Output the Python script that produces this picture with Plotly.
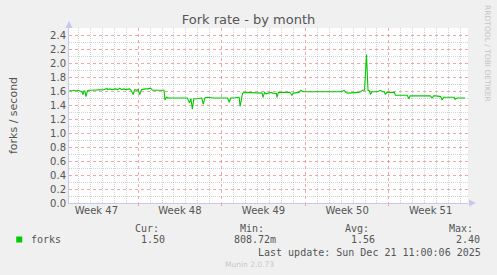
import plotly.graph_objects as go
import pandas as pd

# ---------------- data ----------------
start = "2025-11-18 00:00"
hours = [6, 11, 15, 19, 23, 27, 31, 33, 35, 37, 39, 42, 45, 51, 57, 63, 69, 71, 75, 79,
         81, 83, 87, 91, 95, 99, 103, 107, 111, 115, 119, 123, 127, 130, 134, 137, 141, 144, 147, 151,
         155, 159, 163, 167, 169, 173, 179, 185, 191, 196, 198, 201, 205, 211, 215, 219, 225, 231, 237, 243,
         247, 250, 253, 256, 261, 267, 272, 275, 278, 283, 289, 295, 301, 307, 313, 319, 324, 327, 330, 335,
         341, 347, 349, 354, 359, 365, 371, 377, 383, 389, 393, 395, 398, 401, 407, 411, 415, 419, 422, 423,
         426, 431, 437, 443, 449, 451, 453, 456, 461, 467, 471, 475, 481, 487, 493, 499, 505, 511, 517, 523,
         529, 535, 541, 547, 553, 558, 561, 565, 571, 577, 583, 587, 591, 595, 599, 603, 606, 609, 611, 614,
         619, 625, 631, 635, 639, 641, 644, 649, 655, 659, 661, 667, 673, 679, 685, 688, 691, 697, 703, 709,
         715, 721, 727, 731, 735, 738, 743, 749, 752, 755, 758, 763, 769, 775, 779, 781, 785, 791, 797, 801]
forks = [1.61, 1.60, 1.61, 1.60, 1.61, 1.60, 1.59, 1.55, 1.60, 1.60, 1.52, 1.60, 1.61, 1.61, 1.61, 1.61, 1.61, 1.62, 1.62, 1.63,
         1.64, 1.62, 1.63, 1.62, 1.63, 1.63, 1.62, 1.64, 1.62, 1.63, 1.62, 1.62, 1.63, 1.61, 1.55, 1.62, 1.61, 1.62, 1.55, 1.62,
         1.63, 1.63, 1.63, 1.63, 1.64, 1.61, 1.61, 1.61, 1.61, 1.61, 1.47, 1.51, 1.50, 1.50, 1.49, 1.50, 1.50, 1.49, 1.50, 1.50,
         1.43, 1.49, 1.34, 1.49, 1.49, 1.49, 1.50, 1.41, 1.50, 1.51, 1.50, 1.50, 1.50, 1.50, 1.50, 1.50, 1.50, 1.44, 1.50, 1.50,
         1.50, 1.51, 1.38, 1.57, 1.58, 1.58, 1.58, 1.58, 1.58, 1.58, 1.57, 1.51, 1.58, 1.56, 1.57, 1.58, 1.57, 1.57, 1.56, 1.51,
         1.58, 1.58, 1.58, 1.58, 1.58, 1.56, 1.54, 1.57, 1.57, 1.58, 1.61, 1.59, 1.59, 1.59, 1.60, 1.59, 1.59, 1.59, 1.60, 1.59,
         1.59, 1.59, 1.59, 1.59, 1.59, 1.61, 1.58, 1.57, 1.57, 1.57, 1.57, 1.58, 1.59, 1.61, 1.61, 2.12, 1.61, 1.60, 1.55, 1.59,
         1.59, 1.59, 1.61, 1.59, 1.59, 1.55, 1.58, 1.58, 1.58, 1.58, 1.54, 1.54, 1.54, 1.54, 1.54, 1.49, 1.53, 1.53, 1.53, 1.53,
         1.53, 1.53, 1.53, 1.53, 1.50, 1.53, 1.53, 1.53, 1.52, 1.47, 1.51, 1.51, 1.51, 1.51, 1.51, 1.48, 1.50, 1.50, 1.50, 1.50]

week_centers = ["2025-11-20 12:00", "2025-11-27 12:00", "2025-12-04 12:00", "2025-12-11 12:00", "2025-12-18 12:00"]
week_labels = ["Week 47", "Week 48", "Week 49", "Week 50", "Week 51"]
week_starts = ["2025-11-24", "2025-12-01", "2025-12-08", "2025-12-15"]
x_range = ["2025-11-18 05:00", "2025-12-21 15:00"]

y_ticks = [0.0, 0.2, 0.4, 0.6, 0.8, 1.0, 1.2, 1.4, 1.6, 1.8, 2.0, 2.2, 2.4]
y_minor = [0.1, 0.3, 0.5, 0.7, 0.9, 1.1, 1.3, 1.5, 1.7, 1.9, 2.1, 2.3, 2.5]

legend_name = "forks"
stat_headers = ["Cur:", "Min:", "Avg:", "Max:"]
stat_values = ["1.50", "808.72m", "1.56", "2.40"]
last_update = "Last update: Sun Dec 21 11:00:06 2025"

times = pd.Timestamp(start) + pd.to_timedelta(hours, unit="h")
days = pd.date_range("2025-11-19", "2025-12-21", freq="D")
day_minor = [d.strftime("%Y-%m-%d") for d in days if d.weekday() != 0]

# ---------------- layout geometry ----------------
W, H = 497, 275
L, R, T, B = 67, 468, 28, 203
PW, PH = R - L, B - T

def px(x):
    return (x - L) / PW

def py(y):
    return (B - y) / PH

GREEN = "#00CC00"
TXT = "#555555"
RED_GRID = "rgba(225,95,95,0.55)"
GRAY_GRID = "rgba(150,150,150,0.42)"
AXIS = "#C8C8EE"
DASH_MAJOR = "dot"
DASH_MINOR = "1px,1px"

fig = go.Figure()
fig.add_trace(go.Scatter(x=times, y=forks, mode="lines",
                         line=dict(color=GREEN, width=1.1), showlegend=False,
                         hoverinfo="skip"))

fig.update_layout(
    width=W, height=H,
    margin=dict(l=L, r=W - R, t=T, b=H - B, pad=0),
    paper_bgcolor="#F0F0F0", plot_bgcolor="#FFFFFF",
    font=dict(family="DejaVu Sans", size=10, color=TXT),
    title=dict(text="Fork rate - by month", x=0.5, xanchor="center",
               y=1 - 19 / H, yanchor="middle",
               font=dict(family="DejaVu Sans", size=13, color=TXT)),
    xaxis=dict(type="date", range=x_range, tickvals=week_starts,
               showticklabels=False, ticks="outside", ticklen=2, tickcolor=RED_GRID,
               showgrid=True, gridcolor=RED_GRID, griddash=DASH_MAJOR, gridwidth=1,
               minor=dict(tickmode="array", tickvals=day_minor, showgrid=True,
                          gridcolor=GRAY_GRID, griddash=DASH_MINOR, ticks=""),
               showline=True, linecolor=AXIS, linewidth=1, zeroline=False,
               fixedrange=True),
    xaxis2=dict(type="date", range=x_range, overlaying="x", side="bottom",
                tickvals=week_centers, ticktext=week_labels, ticks="",
                showgrid=False, showline=False, zeroline=False,
                tickfont=dict(family="DejaVu Sans", size=10, color=TXT)),
    yaxis=dict(range=[0, 2.5], tickvals=y_ticks, tickformat=".1f",
               ticks="", showgrid=True, gridcolor=RED_GRID, griddash=DASH_MAJOR,
               minor=dict(tickmode="array", tickvals=y_minor, showgrid=True,
                          gridcolor=GRAY_GRID, griddash=DASH_MINOR, ticks=""),
               showline=True, linecolor=AXIS, linewidth=1, zeroline=False,
               title=dict(text="forks / second", standoff=30,
                          font=dict(family="DejaVu Sans", size=11, color=TXT)),
               tickfont=dict(family="DejaVu Sans", size=10, color=TXT),
               fixedrange=True),
)
# invisible trace so that xaxis2 is drawn
fig.add_trace(go.Scatter(x=x_range, y=[None, None], xaxis="x2", mode="lines",
                         showlegend=False, hoverinfo="skip"))

# axis arrows
fig.add_shape(type="path", xref="paper", yref="paper", line=dict(width=0), fillcolor=AXIS,
              path=f"M {px(67)} {py(21)} L {px(63.5)} {py(28)} L {px(70.5)} {py(28)} Z")
fig.add_shape(type="path", xref="paper", yref="paper", line=dict(width=0), fillcolor=AXIS,
              path=f"M {px(476)} {py(203)} L {px(469)} {py(199.5)} L {px(469)} {py(206.5)} Z")

# legend square
fig.add_shape(type="rect", xref="paper", yref="paper", line=dict(width=0), fillcolor=GREEN,
              x0=px(14), x1=px(20), y0=py(242.5), y1=py(236.5))

MONO = dict(family="DejaVu Sans Mono", size=10, color=TXT)

def text(x, y, s, anchor="left", font=MONO, angle=0):
    fig.add_annotation(xref="paper", yref="paper", x=px(x), y=py(y), text=s,
                       showarrow=False, xanchor=anchor, yanchor="middle",
                       font=font, textangle=angle)

text(26.5, 239.5, legend_name)
for xh, s in zip([131, 237, 342, 447], stat_headers):
    text(xh, 228, s)
for xv, s in zip([137.5, 230.5, 348.5, 453.5], stat_values):
    text(xv, 239.5, s)
text(483.5, 252, last_update, anchor="right")
text(248, 264, "Munin 2.0.73", anchor="center",
     font=dict(family="DejaVu Sans", size=7.5, color="#C8C8C8"))
text(488, 54, "RRDTOOL / TOBI OETIKER", anchor="center",
     font=dict(family="DejaVu Sans", size=7.5, color="#C4C4C4"), angle=90)

fig.write_html("out.html")
